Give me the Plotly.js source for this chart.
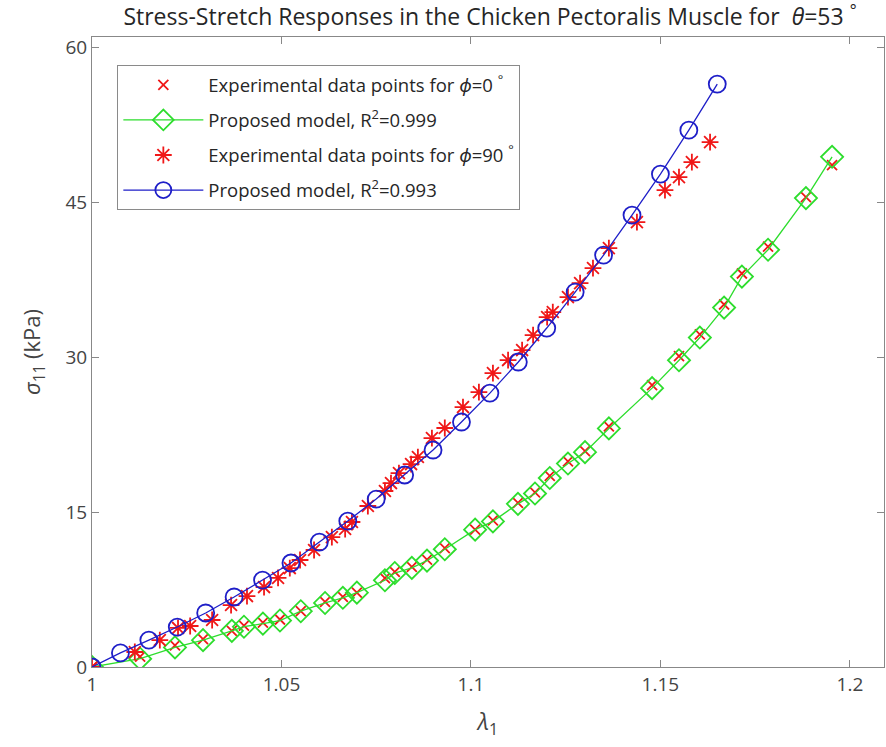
<!DOCTYPE html>
<html>
<head>
<meta charset="utf-8">
<script src="https://cdn.plot.ly/plotly-3.0.1.min.js"></script>
<style>
html,body{margin:0;padding:0;background:#fff;}
#chart{width:886px;height:747px;}
</style>
</head>
<body>
<div id="chart"></div>
<script>
// phi = 0 deg: experimental stretch and stress (kPa)
const lambdaPhi0 = [1.0000,1.0127,1.0219,1.0293,1.0369,1.0401,1.0451,1.0496,1.0551,1.0615,1.0662,1.0699,1.0773,1.0799,1.0844,1.0884,1.0931,1.1011,1.1058,1.1124,1.1169,1.1208,1.1256,1.1301,1.1364,1.1478,1.1549,1.1604,1.1668,1.1715,1.1784,1.1884,1.1953];
const stressPhi0 = [0.0,1.0,2.1,2.7,3.5,4.0,4.3,4.6,5.4,6.3,6.8,7.2,8.6,9.2,9.7,10.4,11.5,13.3,14.2,15.9,16.9,18.5,19.9,20.9,23.3,27.3,30.1,32.2,35.1,38.1,40.7,45.5,48.6];
// phi = 0 deg: proposed model (R^2 = 0.999)
const lambdaModel0 = [1.0000,1.0127,1.0219,1.0293,1.0369,1.0401,1.0451,1.0496,1.0551,1.0615,1.0662,1.0699,1.0773,1.0799,1.0844,1.0884,1.0931,1.1011,1.1058,1.1124,1.1169,1.1208,1.1256,1.1301,1.1364,1.1478,1.1549,1.1604,1.1668,1.1715,1.1784,1.1884,1.1953];
const stressModel0 = [0.0,0.8,1.9,2.6,3.5,3.9,4.2,4.5,5.4,6.2,6.7,7.2,8.4,9.1,9.6,10.3,11.4,13.3,14.1,15.8,16.8,18.3,19.7,20.8,23.1,27.0,29.7,31.9,34.8,37.8,40.4,45.4,49.4];
// phi = 90 deg: experimental stretch and stress (kPa)
const lambdaPhi90 = [1.0000,1.0113,1.0179,1.0227,1.0259,1.0317,1.0367,1.0409,1.0454,1.0491,1.0522,1.0549,1.0586,1.0633,1.0668,1.0686,1.0728,1.0773,1.0789,1.0810,1.0842,1.0860,1.0897,1.0931,1.0979,1.1021,1.1058,1.1098,1.1135,1.1164,1.1201,1.1216,1.1256,1.1288,1.1322,1.1364,1.1438,1.1512,1.1549,1.1583,1.1631];
const stressPhi90 = [0.0,1.45,2.61,3.78,3.97,4.55,6.0,6.87,7.74,8.62,9.58,10.36,11.33,12.58,13.36,14.04,15.59,17.04,17.81,18.78,19.65,20.33,22.17,23.14,25.17,26.62,28.46,29.72,30.69,32.14,33.88,34.37,35.82,37.17,38.63,40.56,43.08,46.18,47.43,48.89,50.82];
// phi = 90 deg: proposed model (R^2 = 0.993)
const lambdaModel90 = [1.0000,1.0075,1.0150,1.0225,1.0300,1.0375,1.0450,1.0525,1.0600,1.0675,1.0750,1.0825,1.0900,1.0975,1.1050,1.1125,1.1200,1.1275,1.1350,1.1425,1.1500,1.1575,1.1650];
const stressModel90 = [0.0,1.36,2.61,3.87,5.23,6.78,8.42,10.07,12.10,14.13,16.26,18.59,21.01,23.72,26.52,29.53,32.82,36.30,39.88,43.76,47.73,51.98,56.44];

const xTicks = [1, 1.05, 1.1, 1.15, 1.2];
const xTickLabels = ['1', '1.05', '1.1', '1.15', '1.2'];
const yTicks = [0, 15, 30, 45, 60];
const yTickLabels = ['0', '15', '30', '45', '60'];

const names = [
  'Experimental data points for <i>ϕ</i>=0 <sup>°</sup>',
  'Proposed model, R<sup>2</sup>=0.999',
  'Experimental data points for <i>ϕ</i>=90 <sup>°</sup>',
  'Proposed model, R<sup>2</sup>=0.993'
];

const RED = '#f01818', GREEN = '#2ddd2d', BLUE = '#1e1ec8';

const traces = [
  {x: lambdaPhi0, y: stressPhi0, name: names[0], legendgroup: 'a', mode: 'markers', type: 'scatter',
   marker: {symbol: 'x-thin-open', size: 10, color: RED, line: {color: RED, width: 1.8}}},
  {x: lambdaModel0, y: stressModel0, name: names[1], legendgroup: 'b', mode: 'lines+markers', type: 'scatter',
   line: {color: GREEN, width: 1.3},
   marker: {symbol: 'diamond-open', size: 17, color: GREEN, line: {color: GREEN, width: 1.8}}},
  {x: lambdaPhi90, y: stressPhi90, name: names[2], legendgroup: 'c', mode: 'markers', type: 'scatter',
   marker: {symbol: 'asterisk-open', size: 14, color: RED, line: {color: RED, width: 1.8}}},
  {x: lambdaModel90, y: stressModel90, name: names[3], legendgroup: 'd', mode: 'lines+markers', type: 'scatter',
   line: {color: BLUE, width: 1.3},
   marker: {symbol: 'circle-open', size: 17, color: BLUE, line: {color: BLUE, width: 1.8}}}
];

const FONT = '"Open Sans", "Noto Sans", sans-serif';
const layout = {
  width: 886, height: 747,
  margin: {l: 92, r: 2, t: 37, b: 80},
  paper_bgcolor: '#fff', plot_bgcolor: '#fff',
  font: {family: FONT, color: '#4a4a4a', size: 18},
  title: {text: 'Stress-Stretch Responses in the Chicken Pectoralis Muscle for  <i>θ</i>=53 <sup>°</sup>',
          font: {family: FONT, size: 23, color: '#262626'}, x: 0.553, xanchor: 'center', y: 0.977, yanchor: 'middle'},
  showlegend: true,
  legend: {x: 0.032, y: 0.955, xanchor: 'left', yanchor: 'top',
           bgcolor: '#fff', bordercolor: '#8a8a8a', borderwidth: 1,
           font: {family: FONT, size: 18.5, color: '#262626'}, tracegroupgap: 8, itemwidth: 80},
  xaxis: {range: [1, 1.209], tickvals: xTicks, ticktext: xTickLabels,
          ticks: 'inside', ticklen: 7, tickcolor: '#888', showline: true, linecolor: '#888', linewidth: 1,
          mirror: 'ticks', showgrid: false, zeroline: false,
          tickfont: {family: FONT, size: 19, color: '#444'},
          title: {text: '<i>λ</i><sub>1</sub>', font: {family: FONT, size: 23, color: '#444'}, standoff: 18}},
  yaxis: {range: [0, 61], tickvals: yTicks, ticktext: yTickLabels,
          ticks: 'inside', ticklen: 7, tickcolor: '#888', showline: true, linecolor: '#888', linewidth: 1,
          mirror: 'ticks', showgrid: false, zeroline: false,
          tickfont: {family: FONT, size: 19, color: '#444'},
          title: {text: '<i>σ</i><sub>11</sub> (kPa)', font: {family: FONT, size: 22, color: '#444'}, standoff: 18}}
};

Plotly.newPlot('chart', traces, layout, {displayModeBar: false, staticPlot: true});
</script>
</body>
</html>
